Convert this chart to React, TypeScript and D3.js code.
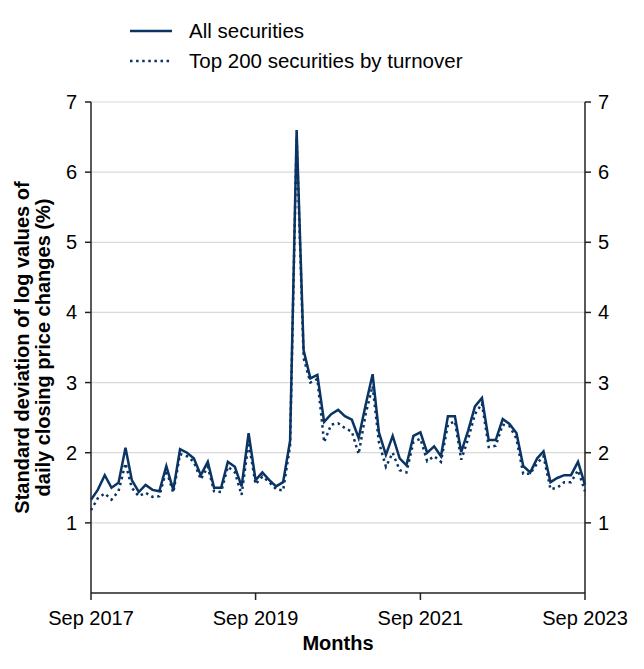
import React from "react";
import * as d3 from "d3";

const startMonth = new Date(2017, 8, 1);
const allSecurities = [
  1.33, 1.47, 1.68, 1.5, 1.57, 2.07, 1.61, 1.44, 1.54, 1.47, 1.45, 1.81,
  1.47, 2.05, 2.0, 1.92, 1.68, 1.87, 1.5, 1.5, 1.87, 1.8, 1.52, 2.28,
  1.61, 1.72, 1.61, 1.52, 1.58, 2.17, 6.6, 3.46, 3.06, 3.11, 2.44, 2.55,
  2.61, 2.52, 2.47, 2.21, 2.68, 3.12, 2.29, 1.97, 2.24, 1.92, 1.82, 2.24,
  2.29, 2.0, 2.09, 1.95, 2.52, 2.52, 2.01, 2.32, 2.66, 2.78, 2.18, 2.18,
  2.48, 2.41, 2.28, 1.81, 1.72, 1.92, 2.02, 1.58, 1.64, 1.68, 1.68, 1.87, 1.54,
];
const top200 = [
  1.18, 1.35, 1.42, 1.33, 1.45, 1.85, 1.5, 1.38, 1.43, 1.37, 1.38, 1.75,
  1.43, 1.98, 1.95, 1.87, 1.62, 1.8, 1.45, 1.44, 1.8, 1.72, 1.4, 2.15,
  1.55, 1.66, 1.58, 1.48, 1.46, 2.1, 6.5, 3.35, 3.0, 3.05, 2.15, 2.4,
  2.42, 2.35, 2.3, 1.98, 2.55, 2.95, 2.15, 1.8, 2.0, 1.75, 1.72, 2.15,
  2.2, 1.88, 1.95, 1.87, 2.4, 2.45, 1.9, 2.2, 2.55, 2.7, 2.08, 2.1,
  2.4, 2.38, 2.2, 1.7, 1.7, 1.85, 1.95, 1.48, 1.5, 1.58, 1.58, 1.75, 1.45,
];
const yTicks = [1, 2, 3, 4, 5, 6, 7];
const xTickLabels = ["Sep 2017", "Sep 2019", "Sep 2021", "Sep 2023"];
const xTickDates = [new Date(2017, 8, 1), new Date(2019, 8, 1), new Date(2021, 8, 1), new Date(2023, 8, 1)];
const seriesNames = ["All securities", "Top 200 securities by turnover"];

const W = 644;
const H = 669;
const M = { left: 91, right: 585, top: 102, bottom: 593 };
const COLOR = "#0a3463";
const FONT = "Liberation Sans, Arial, sans-serif";
const FS = 20;

export default function App() {
  const dates = allSecurities.map((_, i) => d3.timeMonth.offset(startMonth, i));
  const x = d3.scaleTime().domain([dates[0], dates[dates.length - 1]]).range([M.left, M.right]);
  const y = d3.scaleLinear().domain([0, 7]).range([M.bottom, M.top]);
  const line = d3
    .line<number>()
    .x((_, i) => x(dates[i]))
    .y((d) => y(d));

  return (
    <svg width={W} height={H} style={{ position: "absolute", left: 0, top: 0 }} fontFamily={FONT}>
      <rect width={W} height={H} fill="#fff" />
      {/* legend */}
      <line x1={130} x2={172} y1={31} y2={31} stroke={COLOR} strokeWidth={2.5} />
      <text x={189} y={38} fontSize={20.5} fill="#000">{seriesNames[0]}</text>
      <line x1={130} x2={172} y1={61} y2={61} stroke={COLOR} strokeWidth={2.5} strokeDasharray="2.5,3.6" />
      <text x={189} y={68} fontSize={20.5} fill="#000">{seriesNames[1]}</text>

      {/* grid */}
      {yTicks.map((t) => (
        <line key={t} x1={M.left} x2={M.right} y1={y(t)} y2={y(t)} stroke="#d9d9d9" strokeWidth={1.2} />
      ))}

      {/* axes */}
      <line x1={M.left} x2={M.left} y1={M.top} y2={M.bottom} stroke="#222" strokeWidth={1.5} />
      <line x1={M.right} x2={M.right} y1={M.top} y2={M.bottom} stroke="#222" strokeWidth={1.5} />
      <line x1={M.left} x2={M.right} y1={M.bottom} y2={M.bottom} stroke="#222" strokeWidth={1.5} />
      {yTicks.map((t) => (
        <g key={t}>
          <line x1={M.left - 6} x2={M.left} y1={y(t)} y2={y(t)} stroke="#222" strokeWidth={1.5} />
          <line x1={M.right} x2={M.right + 6} y1={y(t)} y2={y(t)} stroke="#222" strokeWidth={1.5} />
          <text x={M.left - 14} y={y(t) + 7} fontSize={FS} textAnchor="end">{t}</text>
          <text x={M.right + 13} y={y(t) + 7} fontSize={FS} textAnchor="start">{t}</text>
        </g>
      ))}
      {xTickDates.map((d, i) => (
        <g key={i}>
          <line x1={x(d)} x2={x(d)} y1={M.bottom} y2={M.bottom + 7} stroke="#222" strokeWidth={1.5} />
          <text x={x(d)} y={M.bottom + 32} fontSize={FS} textAnchor="middle">{xTickLabels[i]}</text>
        </g>
      ))}

      {/* titles */}
      <text x={338} y={650} fontSize={FS} fontWeight="bold" textAnchor="middle">Months</text>
      <text transform={`translate(29,${(M.top + M.bottom) / 2}) rotate(-90)`} fontSize={FS} fontWeight="bold" textAnchor="middle">
        <tspan x={0} dy={0}>Standard deviation of log values of</tspan>
        <tspan x={0} dy={21}>daily closing price changes (%)</tspan>
      </text>

      {/* series */}
      <path d={line(top200) || ""} fill="none" stroke={COLOR} strokeWidth={2.5} strokeDasharray="2.5,3.6" />
      <path d={line(allSecurities) || ""} fill="none" stroke={COLOR} strokeWidth={2.5} strokeLinejoin="miter" />
    </svg>
  );
}
